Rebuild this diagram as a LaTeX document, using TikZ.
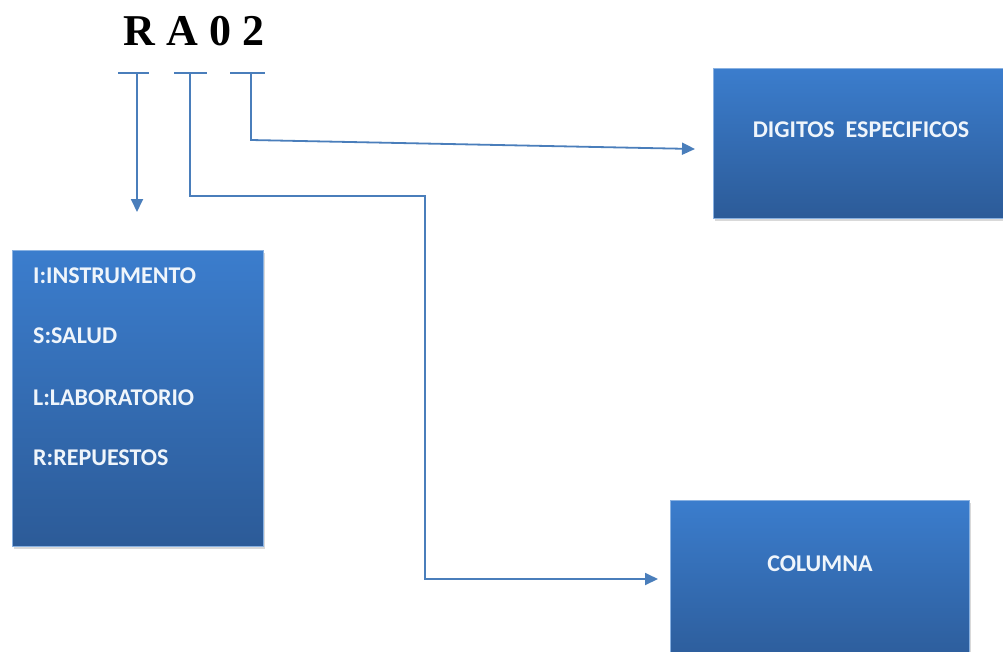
\documentclass[tikz,border=0pt]{standalone}
\usepackage{fontspec}
\setmainfont{Liberation Serif}
\newfontfamily\boxfont{Carlito}
\usetikzlibrary{shadows,arrows.meta}
\definecolor{linec}{HTML}{4A7EBB}
\definecolor{boxtop}{HTML}{3B7DCD}
\definecolor{boxbot}{HTML}{2C5B98}
\begin{document}
\begin{tikzpicture}[x=1pt,y=-1pt,
  bluebox/.style={draw=boxtop!60!white, line width=0.4pt, top color=boxtop, bottom color=boxbot,
    drop shadow={shadow xshift=2pt, shadow yshift=-3pt, opacity=0.3}, inner sep=0pt, anchor=north west},
  boxtext/.style={text=white!92!boxtop, inner sep=0pt, font=\boxfont\bfseries\fontsize{24}{28}\selectfont},
  conn/.style={draw=linec, line width=1.8pt, -{Triangle[length=13pt,width=12pt]}},
  bar/.style={draw=linec, line width=1.8pt}]
\useasboundingbox (0,0) rectangle (1003,651);
% title
\node[font=\fontsize{44}{52}\selectfont\bfseries, inner sep=0pt] (title) at (194,31) {R A 0 2};
% boxes
\node[bluebox, minimum width=251pt, minimum height=296pt] (cats) at (12,250) {};
\node[bluebox, minimum width=300pt, minimum height=150pt] (dig) at (713,68) {};
\node[bluebox, minimum width=299pt, minimum height=170pt] (col) at (670,500) {};
\node[boxtext, anchor=west] (l1) at (33,276) {I:INSTRUMENTO};
\node[boxtext, anchor=west] (l2) at (33,336) {S:SALUD};
\node[boxtext, anchor=west] (l3) at (33,398) {L:LABORATORIO};
\node[boxtext, anchor=west] (l4) at (33,458) {R:REPUESTOS};
\node[boxtext] (digt) at (861,130) {DIGITOS\ \ ESPECIFICOS};
\node[boxtext] (colt) at (820,564) {COLUMNA};
% bars
\coordinate (b1l) at (118,73); \coordinate (b1r) at (149,73);
\coordinate (b2l) at (174,73); \coordinate (b2r) at (207,73);
\coordinate (b3l) at (230,73); \coordinate (b3r) at (265,73);
\draw[bar] (b1l) -- (b1r);
\draw[bar] (b2l) -- (b2r);
\draw[bar] (b3l) -- (b3r);
\coordinate (t1) at (137,73); \coordinate (e1) at (137,212);
\coordinate (t2) at (190,73); \coordinate (k2) at (425,196); \coordinate (e2) at (658,579);
\coordinate (t3) at (251,73); \coordinate (k3) at (251,140); \coordinate (e3) at (695,149);
\draw[conn] (t1) -- (e1);
\draw[conn] (t2) |- (k2) |- (e2);
\draw[conn] (t3) -- (k3) -- (e3);
\end{tikzpicture}
\end{document}
